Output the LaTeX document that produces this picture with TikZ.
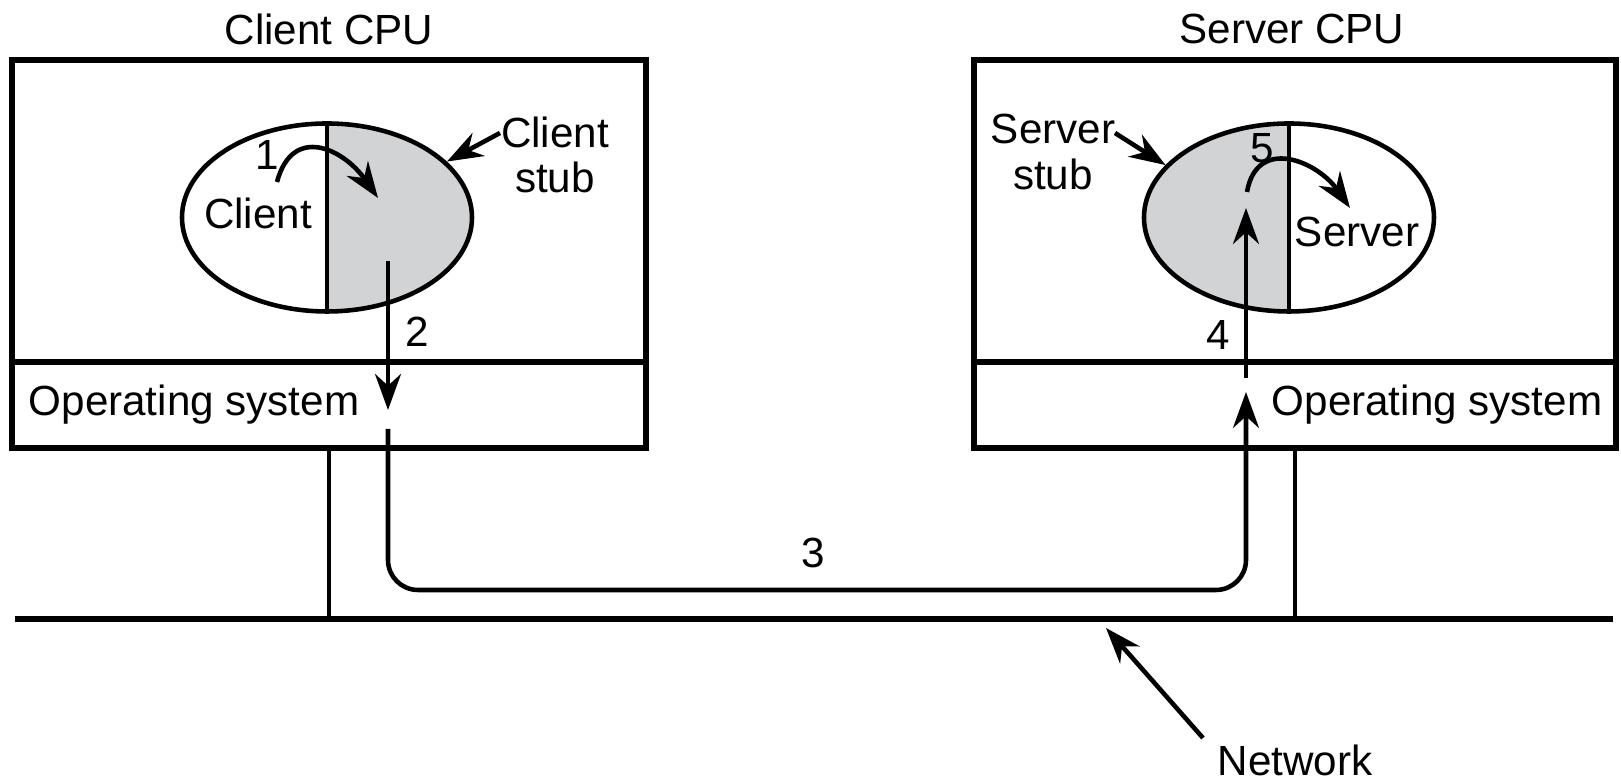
\documentclass[tikz,border=0pt]{standalone}
\usepackage{fontspec}
\setmainfont{Liberation Sans}
\usetikzlibrary{positioning,arrows.meta,shapes.geometric}
\definecolor{stubgray}{RGB}{209,211,212}

\begin{document}
\begin{tikzpicture}[
    every node/.style={font=\fontsize{12}{13}\selectfont},
    cpubox/.style={draw,line width=1.8pt,minimum width=6.34cm,inner sep=0pt},
    proc/.style={draw,ellipse,line width=1.3pt,minimum width=2.9cm,minimum height=1.88cm,inner sep=0pt},
    wire/.style={line width=1.3pt},
    msg/.style={line width=1.3pt,-{Stealth[length=3.6mm,width=2.6mm]}},
  ]
  \useasboundingbox (0,0) rectangle (16.21,7.83);

  % client machine
  \node[cpubox,minimum height=3.02cm] (cuser) at (3.29,5.72) {};
  \node[cpubox,minimum height=0.86cm] (cos) at (3.29,3.78) {};
  \node (ctitle) at (3.29,7.54) {Client CPU};
  \node (costxt) at (1.94,3.78) {Operating system};

  % server machine
  \node[cpubox,minimum width=6.42cm,minimum height=3.02cm] (suser) at (12.95,5.72) {};
  \node[cpubox,minimum width=6.42cm,minimum height=0.86cm] (sos) at (12.95,3.78) {};
  \node (stitle) at (12.92,7.54) {Server CPU};
  \node (sostxt) at (14.37,3.78) {Operating system};

  % processes, stub half shaded
  \node[proc,path picture={\fill[stubgray] (path picture bounding box.north)
      rectangle (path picture bounding box.south east);}] (cproc) at (3.27,5.655) {};
  \draw[wire] (cproc.north) -- (cproc.south);
  \node[proc,path picture={\fill[stubgray] (path picture bounding box.north west)
      rectangle (path picture bounding box.south);}] (sproc) at (12.89,5.655) {};
  \draw[wire] (sproc.north) -- (sproc.south);

  \node (cname) at (2.58,5.70) {Client};
  \node (sname) at (13.57,5.51) {Server};
  \node[align=center] (cstub) at (5.55,6.28) {Client\\stub};
  \node[align=center] (sstub) at (10.53,6.31) {Server\\stub};
  \coordinate (cstubtail) at (5.00,6.50);
  \coordinate (sstubtail) at (11.15,6.50);
  \draw[msg] (cstubtail) -- (cproc.25);
  \draw[msg] (sstubtail) -- (sproc.157);

  % network and the taps
  \coordinate (netL) at (0.145,1.64);
  \coordinate (netR) at (16.13,1.64);
  \draw[line width=1.5pt] (netL) -- (netR);
  \draw[wire] (cos.south) -- (cos.south |- netL);
  \draw[wire] (sos.south) -- (sos.south |- netL);
  \node (nettxt) at (12.95,0.23) {Network};
  \coordinate (nettail) at (12.03,0.45);
  \coordinate (nettip) at (11.06,1.55);
  \draw[msg] (nettail) -- (nettip);

  % steps 1 to 5
  \coordinate (c1s) at (2.77,6.01);
  \coordinate (c1e) at (3.78,5.85);
  \draw[msg] (c1s) to[out=75,in=125,looseness=1.5] (c1e);
  \coordinate (m2a) at (3.88,5.22);
  \coordinate (m2b) at (3.88,3.73);
  \draw[msg] (m2a) -- (m2b);
  \coordinate (m3a) at (3.88,3.54);
  \coordinate (m3b) at (12.46,3.91);
  \coordinate (bend) at (0,1.93);
  \draw[msg,rounded corners=0.3cm] (m3a) -- (m3a |- bend) -- (m3b |- bend) -- (m3b);
  \coordinate (m4a) at (12.46,4.05);
  \coordinate (m4b) at (12.46,5.75);
  \draw[msg] (m4a) -- (m4b);
  \coordinate (s5s) at (12.47,5.91);
  \coordinate (s5e) at (13.50,5.75);
  \draw[msg] (s5s) to[out=80,in=125,looseness=1.4] (s5e);

  \node (n1) at (2.67,6.28) {1};
  \node (n2) at (4.17,4.51) {2};
  \node (n3) at (8.13,2.30) {3};
  \node (n4) at (12.18,4.48) {4};
  \node (n5) at (12.62,6.35) {5};
\end{tikzpicture}
\end{document}
